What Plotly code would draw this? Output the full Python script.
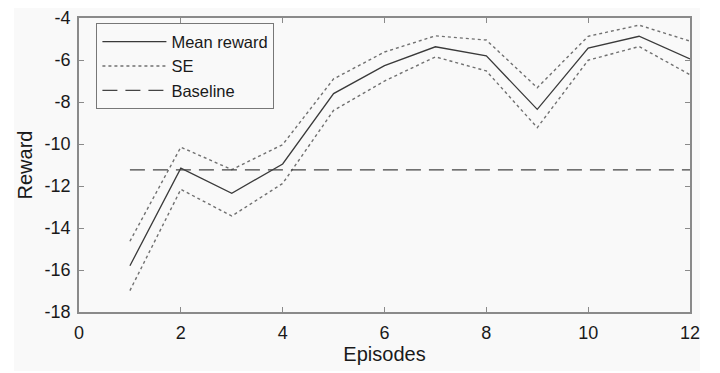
import plotly.graph_objects as go

episodes = [1, 2, 3, 4, 5, 6, 7, 8, 9, 10, 11, 12]
mean_reward = [-15.8, -11.15, -12.35, -10.95, -7.6, -6.27, -5.37, -5.8, -8.35, -5.43, -4.87, -5.95]
se_upper = [-14.63, -10.15, -11.22, -10.03, -6.9, -5.62, -4.85, -5.05, -7.32, -4.87, -4.34, -5.1]
se_lower = [-16.98, -12.16, -13.43, -11.88, -8.4, -7.0, -5.85, -6.52, -9.22, -6.01, -5.36, -6.7]
baseline_x = [1, 12]
baseline_y = [-11.23, -11.23]

x_ticks = [0, 2, 4, 6, 8, 10, 12]
y_ticks = [-18, -16, -14, -12, -10, -8, -6, -4]

font = "Liberation Sans, Arial, Helvetica, sans-serif"
axis_col = "#8a8a8a"
txt_col = "#1a1a1a"

fig = go.Figure()
fig.add_trace(go.Scatter(x=episodes, y=mean_reward, mode="lines", name="Mean reward",
                         line=dict(color="#3a3a3a", width=1.3)))
fig.add_trace(go.Scatter(x=episodes, y=se_upper, mode="lines", name="SE",
                         line=dict(color="#707070", width=1.4, dash="dot")))
fig.add_trace(go.Scatter(x=episodes, y=se_lower, mode="lines", name="SE", showlegend=False,
                         line=dict(color="#707070", width=1.4, dash="dot")))
fig.add_trace(go.Scatter(x=baseline_x, y=baseline_y, mode="lines", name="Baseline",
                         line=dict(color="#444444", width=1.2, dash="15px,8px")))

axis_common = dict(showgrid=False, zeroline=False, showline=True, linecolor=axis_col, linewidth=1.6,
                   mirror="ticks", ticks="inside", ticklen=5, tickcolor=axis_col, tickwidth=1.3,
                   automargin=False, ticklabeloverflow="allow",
                   tickfont=dict(family=font, size=18, color=txt_col))

fig.update_xaxes(range=[0, 12], tickvals=x_ticks, ticktext=[str(v) for v in x_ticks],
                 ticklabelstandoff=4,
                 title=dict(text="Episodes", font=dict(family=font, size=20, color=txt_col), standoff=5),
                 **axis_common)
fig.update_yaxes(range=[-18, -4], tickvals=y_ticks, ticktext=[str(v) for v in y_ticks],
                 ticklabelstandoff=3,
                 title=dict(text="Reward", font=dict(family=font, size=20, color=txt_col), standoff=7),
                 **axis_common)

# page has an 8px body margin: plot area spans page x 79..690, y 18..312
PH = 294
fig.add_shape(type="rect", xref="paper", yref="paper",
              x0=(14 - 79) / 611, x1=(700 - 79) / 611, y0=-(371 - 312) / PH, y1=1 + 10 / PH,
              fillcolor="#f9f9f9", line=dict(width=0), layer="below")

fig.update_layout(
    width=712, height=365,
    margin=dict(l=71, r=30, t=10, b=61),
    paper_bgcolor="white", plot_bgcolor="rgba(0,0,0,0)",
    font=dict(family=font, size=17, color=txt_col),
    showlegend=True,
    legend=dict(x=0.028, y=1 - 5 / PH, xanchor="left", yanchor="top",
                bgcolor="#f9f9f9", bordercolor="#777", borderwidth=1.3,
                font=dict(family=font, size=16.5, color=txt_col),
                tracegroupgap=0, itemwidth=64),
)

fig.write_html("out.html")
